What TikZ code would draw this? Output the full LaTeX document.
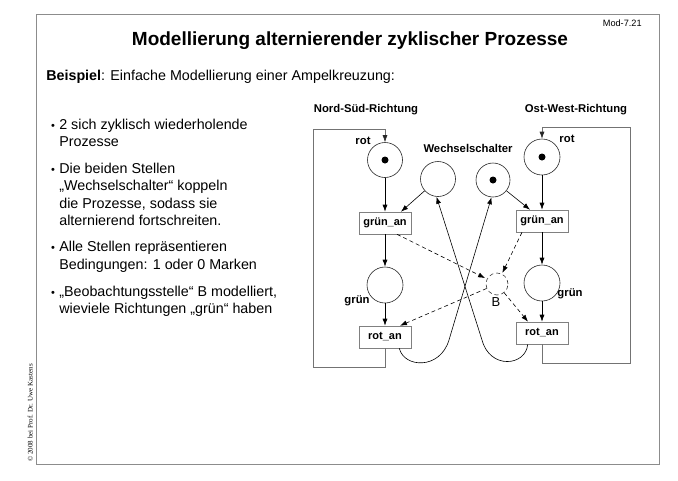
\documentclass[tikz,border=0pt]{standalone}
\usepackage{fontspec}
\setmainfont{Liberation Sans}
\newfontfamily\serifcr{Liberation Serif}
\usetikzlibrary{arrows.meta,calc}
\begin{document}
\begin{tikzpicture}[x=1pt,y=-1pt,
  line width=0.6pt,
  arr/.style={-{Latex[length=7pt,width=5pt]}},
  larr/.style={-{Latex[length=7pt,width=5pt,color=black!85]}},
  place/.style={circle,draw=black!85,minimum size=35pt,inner sep=0pt},
  trans/.style={rectangle,draw=black!50,minimum width=52pt,minimum height=22pt,inner sep=0pt,font=\fontsize{11}{13}\selectfont\bfseries},
  lbl/.style={font=\fontsize{11.3}{13}\selectfont\bfseries},
  tok/.style={circle,fill=black,inner sep=0pt,minimum size=7pt},
  dsh/.style={dash pattern=on 4pt off 3pt},
  body/.style={anchor=base west,font=\fontsize{14.3}{17.4}\selectfont,inner sep=0pt},
  bul/.style={anchor=base,font=\fontsize{11}{17.4}\selectfont,inner sep=0pt},
  looppath/.style={draw=black!55},
]
\useasboundingbox (0,0) rectangle (678,480);
\draw[black!45, line width=1pt] (36,14) rectangle (659,464);

% header
\node[anchor=base, font=\fontsize{19}{22}\selectfont\bfseries, inner sep=0pt] (title) at (350,45) {Modellierung alternierender zyklischer Prozesse};
\node[anchor=base east, font=\fontsize{9.2}{11}\selectfont, inner sep=0pt] (mod) at (642,26) {Mod-7.21};
\node[body] (bsp) at (46,80) {\textbf{Beispiel}: Einfache Modellierung einer Ampelkreuzung:};

% bullets
\node[bul] (u1) at (53,129.3) {•};
\node[body] (b1a) at (59,129.3) {2 sich zyklisch wiederholende};
\node[body] (b1b) at (59,146.7) {Prozesse};
\node[bul] (u2) at (53,173.3) {•};
\node[body] (b2a) at (59,173.3) {Die beiden Stellen};
\node[body] (b2b) at (59,190.7) {„Wechselschalter“ koppeln};
\node[body] (b2c) at (59,208.3) {die Prozesse, sodass sie};
\node[body] (b2d) at (59,225) {alternierend fortschreiten.};
\node[bul] (u3) at (53,251.7) {•};
\node[body] (b3a) at (59,251.7) {Alle Stellen repräsentieren};
\node[body] (b3b) at (59,269) {Bedingungen: 1 oder 0 Marken};
\node[bul] (u4) at (53,296) {•};
\node[body] (b4a) at (59,296) {„Beobachtungsstelle“ B modelliert,};
\node[body] (b4b) at (59,313.5) {wieviele Richtungen „grün“ haben};

% copyright
\node[rotate=90, anchor=base west, font=\serifcr\fontsize{7}{8}\selectfont, inner sep=0pt] (copy) at (32.5,462) {© 2008 bei Prof. Dr. Uwe Kastens};

% diagram labels
\node[lbl] (ns) at (366,110) {Nord-Süd-Richtung};
\node[lbl] (ow) at (576,110) {Ost-West-Richtung};
\node[lbl] (ws) at (468,148) {Wechselschalter};

% places
\node[place] (pRL) at (385,160) {};
\node[tok] (tRL) at (pRL) {};
\node[place] (pW1) at (438,179) {};
\node[place,minimum size=34pt] (pW2) at (493,180) {};
\node[tok] (tW2) at (pW2) {};
\node[place,minimum size=36pt] (pRR) at (542,157) {};
\node[tok] (tRR) at (pRR) {};
\node[place,minimum size=36pt] (pGL) at (385,285) {};
\node[place,minimum size=36pt] (pGR) at (542,283) {};
\node[circle,draw=black!80,dsh,minimum size=22pt,inner sep=0pt] (pB) at (497,284) {};

% transitions
\node[trans] (gL) at (385,223) {grün\_an};
\node[trans] (gR) at (542,221) {grün\_an};
\node[trans] (rL) at (385,337) {rot\_an};
\node[trans] (rR) at (542,333) {rot\_an};

% labels at places
\node[lbl] (lrotL) at (363,141) {rot};
\node[lbl] (lrotR) at (567,139) {rot};
\node[lbl] (lgrL) at (357,301) {grün};
\node[lbl] (lgrR) at (570,294) {grün};
\node[font=\fontsize{13}{15}\selectfont] (lB) at (496,302) {B};

% vertical arcs
\draw[arr] (pRL) -- (gL);
\draw[arr] (gL) -- (pGL);
\draw[arr] (pGL) -- (rL);
\draw[arr] (pRR) -- (gR);
\draw[arr] (gR) -- (pGR);
\draw[arr] (pGR) -- (rR);
\draw[arr] (pW1) -- ($(gL.north)+(16,0)$);
\draw[arr] (pW2) -- ($(gR.north)+(-12,0)$);

% outer loops
\coordinate (lb) at (313,367);
\coordinate (lt) at (313,129);
\draw[larr,looppath] (rL.south) |- (lb) -- (lt) -| (pRL.north);
\coordinate (rb) at (630,363);
\coordinate (rt) at (630,127);
\draw[larr,looppath] (rR.south) |- (rb) -- (rt) -| (pRR.north);

% crossing curves
\coordinate (cL) at (449,340);
\coordinate (cL1) at (404,368);
\coordinate (cL2) at (440,370);
\draw[arr] ($(rL.south east)+(-12,0)$) .. controls (cL1) and (cL2) .. (cL) -- (pW2.265);
\coordinate (cR) at (482,340);
\coordinate (cR1) at (526,366);
\coordinate (cR2) at (490,370);
\draw[arr] ($(rR.south west)+(12,0)$) .. controls (cR1) and (cR2) .. (cR) -- (pW1.265);

% dashed observation arcs
\draw[arr,dsh,shorten >=2pt] ($(gL.south)+(12,0)$) -- (pB);
\draw[arr,dsh,shorten >=1pt] ($(gR.south)+(-20,0)$) -- (pB);
\draw[arr,dsh] (pB) -- ($(rL.north)+(15,0)$);
\draw[arr,dsh] (pB) -- ($(rR.north)+(-14,0)$);
\end{tikzpicture}
\end{document}
